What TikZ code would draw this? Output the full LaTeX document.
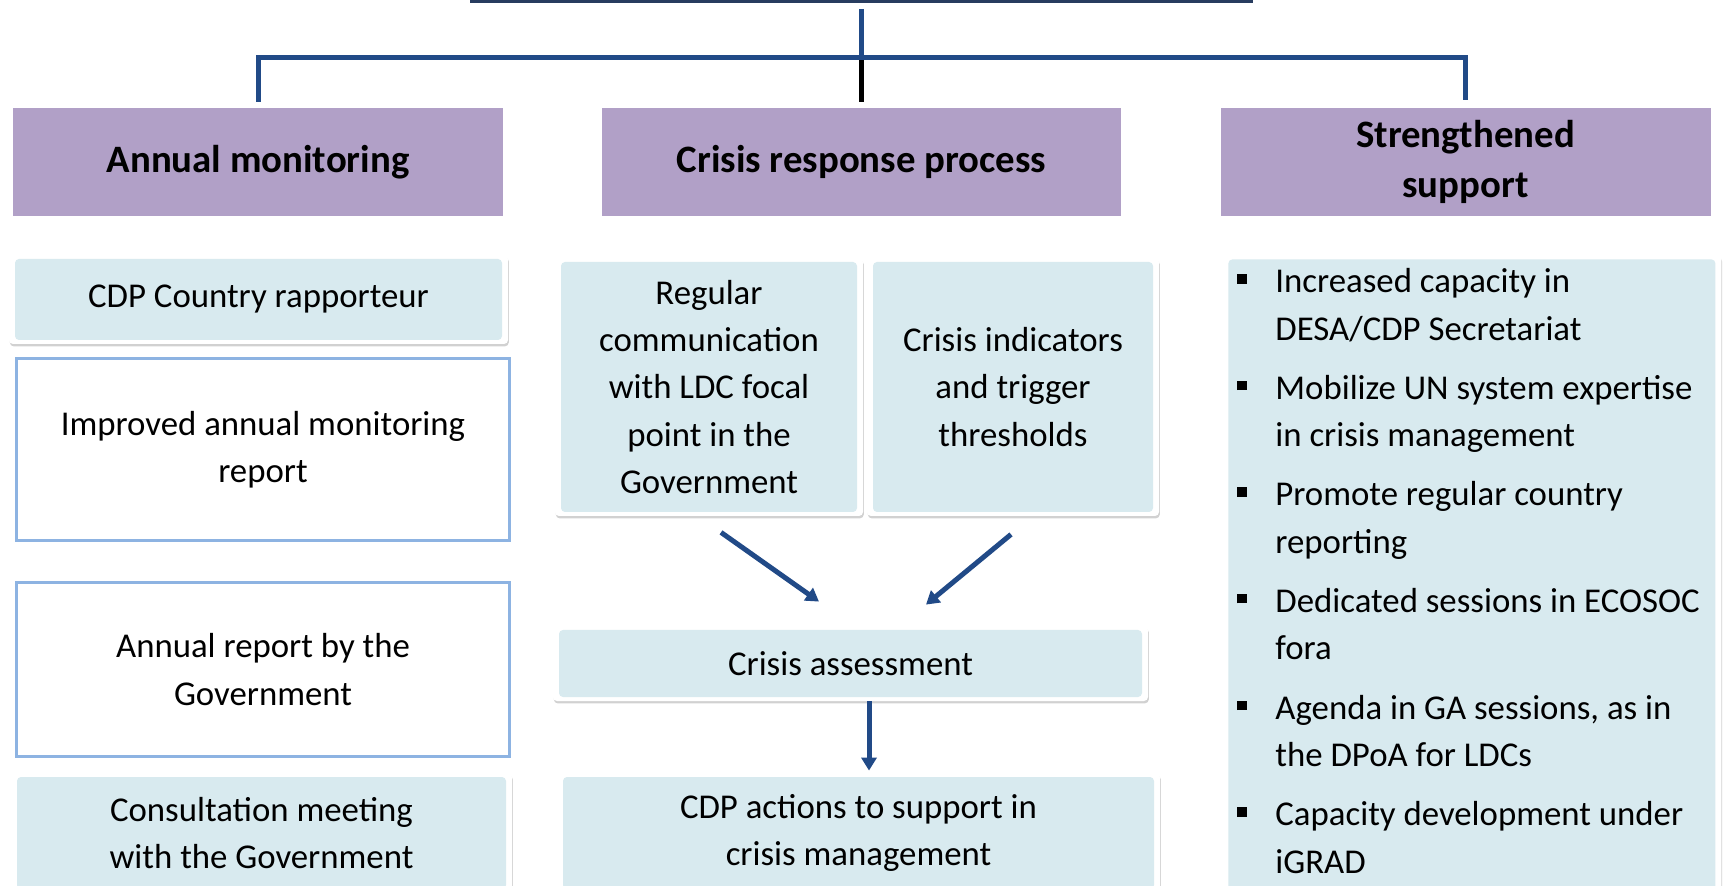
\documentclass[tikz,border=0pt]{standalone}
\usepackage{fontspec}
\setmainfont{Carlito}
\usetikzlibrary{arrows.meta,shadows}

\definecolor{hdrpurple}{RGB}{177,160,199}
\definecolor{cellblue}{RGB}{216,234,239}
\definecolor{rptblue}{RGB}{141,179,226}
\definecolor{tieblue}{RGB}{33,74,135}
\definecolor{navy}{RGB}{40,60,95}

\newcommand{\sqb}{\makebox[19pt][l]{\rule[4.5pt]{4.75pt}{4.75pt}}}
\newcommand{\sqi}{\hspace*{19pt}}

\begin{document}
\begin{tikzpicture}[x=0.5pt,y=-0.5pt,
    hdr/.style={fill=hdrpurple,minimum width=245pt,minimum height=54pt,inner sep=0pt,align=center,
        font=\fontsize{19.4}{25}\selectfont\bfseries},
    txt/.style={align=center,inner sep=0pt,font=\fontsize{17.4}{23.7}\selectfont},
    card/.style={txt,fill=white,rounded corners=2pt,
        drop shadow={shadow xshift=.4pt,shadow yshift=-1.2pt,opacity=.3,fill=black!60},
        path picture={\fill[cellblue] ([shift={(3pt,2pt)}]path picture bounding box.south west)
            rectangle ([shift={(-3pt,-2pt)}]path picture bounding box.north east);}},
    rptbox/.style={txt,fill=white,draw=rptblue,line width=1.5pt},
    tie/.style={tieblue,line width=2.5pt},
    flow/.style={tieblue,line width=2.5pt,-{Triangle[length=6.5pt,width=7.5pt]}}]
    \useasboundingbox (0,0) rectangle (1723,886);

    \node[draw=navy,line width=1.75pt,minimum width=389.75pt,minimum height=60pt] (top) at (861.5,-58.25) {};
    \coordinate (hub) at (861.5,57.5);

    \node[hdr] (mon) at (258,162) {Annual monitoring};
    \node[hdr,minimum width=259.5pt] (crs) at (861.5,162) {Crisis response process};
    \node[hdr] (sup) at (1465.5,162) {Strengthened\\support};

    \draw[black,line width=2.5pt] (hub) -- ([yshift=3pt]crs.north);
    \draw[tie] ([yshift=-2.75pt]top.south) -- (hub);
    \draw[tie] ([yshift=3pt]mon.north) |- (hub) -| ([yshift=4pt]sup.north);

    \node[card,minimum width=249.5pt,minimum height=44.5pt] (rap) at (258.5,299.5) {CDP Country rapporteur};
    \node[rptbox,minimum width=246.5pt,minimum height=91pt] (imp) at (263,449.5) {Improved annual monitoring\\report};
    \node[rptbox,minimum width=246.5pt,minimum height=87pt] (gov) at (263,669.5) {Annual report by the\\Government};
    \node[card,minimum width=250.5pt,minimum height=60pt] (cons) at (261.5,833) {Consultation meeting\\with the Government};

    \node[card,minimum width=154pt,minimum height=129pt] (comm) at (709,387) {Regular\\communication\\with LDC focal\\point in the\\Government};
    \node[card,minimum width=146pt,minimum height=129pt] (ind) at (1013,387) {Crisis indicators\\and trigger\\thresholds};
    \node[card,minimum width=297.5pt,minimum height=37.5pt] (ass) at (850.5,663.5) {Crisis assessment};
    \node[card,minimum width=301.5pt,minimum height=60pt] (act) at (858.5,833) {CDP actions to support in\\crisis management};

    \draw[flow] ([shift={(6pt,-8pt)}]comm.south) -- ([shift={(-15.75pt,12pt)}]ass.north);
    \draw[flow] ([shift={(-1pt,-9pt)}]ind.south) -- ([shift={(37.75pt,10.5pt)}]ass.north);
    \draw[flow] ([xshift=9.25pt]ass.south) -- ([xshift=9.25pt,yshift=1pt]ass.south |- act.north);

    \node[card,minimum width=249.5pt,minimum height=330pt,anchor=north west] (supbox) at (1222,255) {};
    \node[txt,align=left,anchor=base west] (suplist) at (1237,873) {%
        \sqb Increased capacity in\\ \sqi DESA/CDP Secretariat\\[5.9pt]
        \sqb Mobilize UN system expertise\\ \sqi in crisis management\\[5.9pt]
        \sqb Promote regular country\\ \sqi reporting\\[5.9pt]
        \sqb Dedicated sessions in ECOSOC\\ \sqi fora\\[5.9pt]
        \sqb Agenda in GA sessions, as in\\ \sqi the DPoA for LDCs\\[5.9pt]
        \sqb Capacity development under\\ \sqi iGRAD};
\end{tikzpicture}
\end{document}
